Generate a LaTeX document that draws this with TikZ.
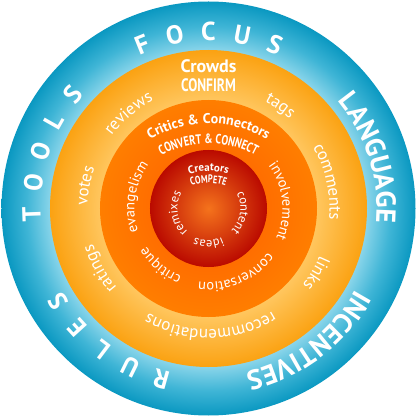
\documentclass[tikz,border=0pt]{standalone}
\usepackage{fontspec}
\setmainfont{PT Sans}
\newfontfamily\condf[FakeStretch=0.75]{PT Sans}
\usetikzlibrary{decorations.text}
\definecolor{bluein}{HTML}{8AD5EA}
\definecolor{bluemid}{HTML}{3FB5D6}
\definecolor{blueout}{HTML}{0A98C1}
\definecolor{orin}{HTML}{FFC65E}
\definecolor{orout}{HTML}{FBA212}
\definecolor{dorin}{HTML}{FF6E00}
\definecolor{dorout}{HTML}{FF7E00}
\definecolor{redin}{HTML}{F5731C}
\definecolor{redout}{HTML}{BA0A00}
% the edge of a shaded circle lies at 25bp in shading units
\pgfdeclareradialshading{blueshade}{\pgfpointorigin}{color(0bp)=(bluein); color(19.1bp)=(bluein); color(22bp)=(bluemid); color(25bp)=(blueout); color(50bp)=(blueout)}
\pgfdeclareradialshading{orshade}{\pgfpointorigin}{color(0bp)=(orin); color(17.1bp)=(orin); color(25bp)=(orout); color(50bp)=(orout)}
\pgfdeclareradialshading{dorshade}{\pgfpointorigin}{color(0bp)=(dorin); color(13.5bp)=(dorin); color(25bp)=(dorout); color(50bp)=(dorout)}
\pgfdeclareradialshading{redshade}{\pgfpointorigin}{color(0bp)=(redin); color(25bp)=(redout); color(50bp)=(redout)}
\newcommand\arctxt[6]{%
  \path[decorate,decoration={text along path,text align=center,text={|#5|#6}}]
    ([shift={(#1,#2)}]{#3+85}:#4) arc[start angle={#3+85},end angle={#3-85},radius=#4];}
\newcommand\bigf{\fontsize{27.5}{30}\selectfont\bfseries\color{white}}
\newcommand\midf{\fontsize{17}{20}\selectfont\color{white}}
\newcommand\smf{\fontsize{14.5}{17}\selectfont\color{white}}
\newcommand\tinyf{\fontsize{12.5}{15}\selectfont\color{white}}
\begin{document}
\begin{tikzpicture}[x=1pt,y=1pt,
  capl/.style={anchor=base,inner sep=0pt,text=white,font=\fontsize{26}{30}\selectfont\bfseries}]
\useasboundingbox (-208.5,-211.5) rectangle (211.5,208.5);
% rings
\shade[shading=blueshade] (0,0) circle[radius=207];
\shade[shading=orshade] (0,0) circle[radius=158.5];
\shade[shading=dorshade] (0,0) circle[radius=108.5];
\shade[shading=redshade] (0,0) circle[radius=58.5];
% outer ring: spaced capitals
\foreach \a/\l [count=\i] in {112/F,101/O,90/C,79/U,68/S}
  \node[capl,rotate=\a-90] (focus-\i) at (\a:168) {\l};
\foreach \a/\l [count=\i] in {182/T,171.5/O,161/O,150.5/L,140/S}
  \node[capl,rotate=\a-90] (tools-\i) at (\a:168) {\l};
\foreach \a/\l [count=\i] in {254.4/R,243.7/U,233/L,222.3/E,211.6/S}
  \node[capl,rotate=\a-90] (rules-\i) at (\a:168) {\l};
\arctxt{0}{0}{17.5}{168}{\bigf}{LANGUAGE}
\arctxt{0}{0}{-53}{168}{\bigf}{INCENTIVES}
% light orange ring
\node[text=white,font=\fontsize{18}{21}\selectfont\bfseries] (crowds) at (0,142.5) {Crowds};
\node[text=white,font=\fontsize{18}{21}\selectfont\condf\bfseries] (confirm) at (0,123.5) {CONFIRM};
\arctxt{0}{0}{130}{121}{\midf}{reviews}
\arctxt{0}{0}{55}{121}{\midf}{tags}
\arctxt{0}{0}{12.7}{121}{\midf}{comments}
\arctxt{0}{0}{-31}{121}{\midf}{links}
\arctxt{0}{0}{-89}{121}{\midf}{recommendations}
\arctxt{0}{0}{209}{121}{\midf}{ratings}
\arctxt{0}{0}{169.6}{121}{\midf}{votes}
% dark orange ring
\arctxt{0}{-27}{90}{112}{\fontsize{14}{17}\selectfont\bfseries\color{white}}{Critics {\&} Connectors}
\arctxt{0}{-32}{90}{97}{\fontsize{13.5}{16}\selectfont\condf\bfseries\color{white}}{CONVERT {\&} CONNECT}
\arctxt{0}{0}{6}{74}{\smf}{involvement}
\arctxt{0}{0}{-67}{74}{\smf}{conversation}
\arctxt{0}{0}{230}{73}{\smf}{critique}
\arctxt{0}{0}{171}{74}{\smf}{evangelism}
% red centre
\arctxt{0}{-22.5}{90}{60}{\fontsize{11}{13}\selectfont\bfseries\color{white}}{Creators}
\arctxt{0}{-24.5}{90}{50}{\fontsize{11}{13}\selectfont\condf\bfseries\color{white}}{COMPETE}
\arctxt{0}{0}{-8}{32}{\tinyf}{content}
\arctxt{0}{0}{-90}{32}{\tinyf}{ideas}
\arctxt{0}{0}{189}{31}{\tinyf}{remixes}
\end{tikzpicture}
\end{document}
